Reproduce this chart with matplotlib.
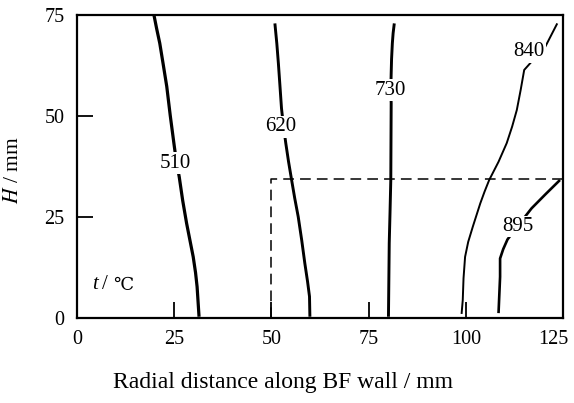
import matplotlib
matplotlib.use('Agg')
import matplotlib.pyplot as plt
import matplotlib.transforms as mtransforms

plt.rcParams['font.family'] = ['Liberation Serif', 'DejaVu Serif']
plt.rcParams['mathtext.fontset'] = 'stix'

# isotherms, radial distance (mm) vs height H (mm)
x_510 = [19.8, 20.5, 21.3, 22.2, 23.1, 24.0, 25.0, 25.6, 26.3, 27.2, 28.2, 29.1, 29.9, 30.5, 30.9, 31.4]
h_510 = [74.9, 71.5, 67.9, 62.6, 57.2, 50.0, 42.7, 38.5, 34.9, 29.0, 23.4, 19.0, 15.1, 11.2, 7.7, 0.3]

x_620 = [50.9, 51.4, 51.8, 52.2, 52.6, 53.1, 53.7, 54.4, 55.2, 56.0, 56.9, 57.8, 58.6, 59.3, 59.8, 59.9]
h_620 = [72.8, 67.8, 62.9, 57.4, 51.8, 47.5, 43.2, 38.7, 34.1, 29.6, 25.0, 19.2, 13.5, 9.0, 5.3, 0.3]

x_730 = [81.6, 81.3, 81.1, 80.9, 80.8, 80.7, 80.8, 80.7, 80.5, 80.3, 80.1]
h_730 = [72.8, 70.4, 67.9, 64.0, 60.5, 56.3, 53.1, 34.1, 26.0, 18.5, 0.3]

x_840 = [123.5, 120.4, 117.7, 115.0, 114.1, 113.1, 111.9, 110.5, 108.4, 106.0, 104.8, 103.7, 101.8, 100.6, 99.8, 99.4, 99.2, 98.9]
h_840 = [72.8, 67.0, 64.2, 61.3, 56.4, 51.4, 47.3, 43.2, 38.6, 34.1, 31.2, 28.3, 22.6, 18.8, 15.1, 9.8, 4.4, 1.0]

x_895 = [124.2, 120.5, 116.9, 113.8, 110.7, 109.6, 108.8, 108.8, 108.6, 108.4]
h_895 = [34.1, 30.6, 27.1, 23.3, 19.4, 17.0, 14.7, 10.2, 5.7, 1.2]

labels = ['510', '620', '730', '840', '895']
label_x = [25.2, 52.4, 80.7, 116.1, 113.5]
label_h = [38.2, 47.3, 56.3, 65.8, 22.6]

# dashed region
box_x = [50, 50, 125]
box_h = [0, 34.3, 34.3]

fig = plt.figure(figsize=(5.74, 4.03), dpi=100)
ax = fig.add_axes([0.134, 0.211, 0.847, 0.753])

curves = [(x_510, h_510, 2.3), (x_620, h_620, 2.1), (x_730, h_730, 2.1),
          (x_840, h_840, 1.4), (x_895, h_895, 1.9)]
for xs, hs, lw in curves:
    ax.plot(xs, hs, color='black', lw=lw, solid_capstyle='butt', solid_joinstyle='round')

for lab, lx, lh in zip(labels, label_x, label_h):
    ax.text(lx, lh, lab, fontsize=15, ha='center', va='center',
            bbox=dict(facecolor='white', edgecolor='none', pad=1.0))

ax.plot(box_x, box_h, color='black', lw=1.1, ls=(0, (7, 4)))

ax.text(3.9, 8.2, 't', fontsize=15, style='italic', ha='left', va='center')
ax.text(6.4, 8.2, '/', fontsize=15, ha='left', va='center')
ax.text(9.2, 8.2, '℃', fontsize=13, ha='left', va='center', family='DejaVu Serif', fontweight='light')

ax.set_xlim(0, 125)
ax.set_ylim(0, 75)
ax.set_xticks([0, 25, 50, 75, 100, 125])
ax.set_yticks([0, 25, 50, 75])
ax.tick_params(direction='in', length=11.5, width=1.3, labelsize=14.5, pad=9)
for s in ax.spines.values():
    s.set_linewidth(1.6)

# last x label sits a bit left in the original
last = ax.xaxis.get_major_ticks()[-1].label1
last.set_transform(last.get_transform() + mtransforms.ScaledTranslation(-7 / 72, 0, fig.dpi_scale_trans))

ax.set_xlabel('Radial distance along BF wall / mm', fontsize=17)
ax.set_ylabel(r'$H$ / mm', fontsize=15.5)
ax.xaxis.set_label_coords(0.424, -0.178)
ax.yaxis.set_label_coords(-0.111, 0.488)

fig.savefig('out.png', dpi=100)
